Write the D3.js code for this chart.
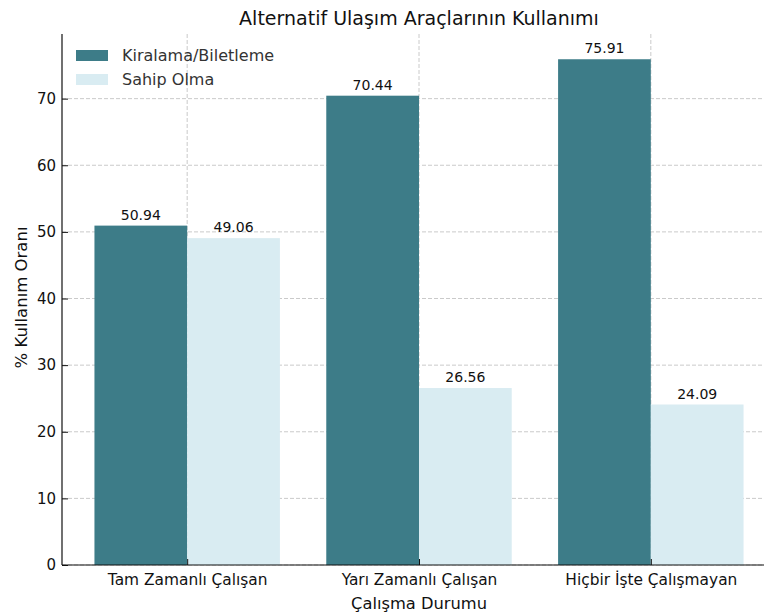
<!DOCTYPE html>
<html>
<head>
<meta charset="utf-8">
<script src="https://cdn.jsdelivr.net/npm/d3@7"></script>
<style>
  body { margin: 0; background: #fff; }
  svg { display: block; font-family: "DejaVu Sans", sans-serif; }
</style>
</head>
<body>
<div id="chart"></div>
<script>
const categories = ["Tam Zamanlı Çalışan", "Yarı Zamanlı Çalışan", "Hiçbir İşte Çalışmayan"];
const seriesNames = ["Kiralama/Biletleme", "Sahip Olma"];
const kiralama = [50.94, 70.44, 75.91];
const sahip = [49.06, 26.56, 24.09];
const yTicks = [0, 10, 20, 30, 40, 50, 60, 70];
const colors = ["#3d7c88", "#d9ecf2"];

const width = 764, height = 613;
// the plot area runs past the right edge of the picture, like the original
const margin = { top: 34, left: 62, right: -12, bottom: 48 };
const innerW = width - margin.left - margin.right;
const innerH = height - margin.top - margin.bottom;

const svg = d3.select("#chart").append("svg")
  .attr("width", width).attr("height", height);

const g = svg.append("g").attr("transform", `translate(${margin.left},${margin.top})`);

// linear x like matplotlib: centers 0..2, bars width 0.4, xlim -0.54..2.54
const x = d3.scaleLinear().domain([-0.54, 2.54]).range([0, innerW]);
const y = d3.scaleLinear().domain([0, 79.7]).range([innerH, 0]);
const barW = 0.4;

// grid
g.append("g").selectAll("line.h").data(yTicks).join("line")
  .attr("x1", 0).attr("x2", innerW)
  .attr("y1", d => y(d)).attr("y2", d => y(d))
  .attr("stroke", "#c4c4c4").attr("stroke-dasharray", "4,2").attr("stroke-width", 0.9);
g.append("g").selectAll("line.v").data(categories).join("line")
  .attr("x1", (d, i) => x(i)).attr("x2", (d, i) => x(i))
  .attr("y1", 0).attr("y2", innerH)
  .attr("stroke", "#c4c4c4").attr("stroke-dasharray", "4,2").attr("stroke-width", 0.9);

const series = [kiralama, sahip];
series.forEach((vals, s) => {
  const off = s === 0 ? -barW / 2 : barW / 2;
  g.append("g").selectAll("rect").data(vals).join("rect")
    .attr("x", (d, i) => x(i + off - barW / 2))
    .attr("width", x(barW) - x(0))
    .attr("y", d => y(d))
    .attr("height", d => innerH - y(d))
    .attr("fill", colors[s]);
  g.append("g").selectAll("text").data(vals).join("text")
    .attr("x", (d, i) => x(i + off))
    .attr("y", d => y(d) - 6)
    .attr("text-anchor", "middle")
    .attr("font-size", 14)
    .attr("fill", "#111")
    .text(d => d.toFixed(2));
});

// axes, ticks point inward like the original
const yAxis = g.append("g").call(d3.axisLeft(y).tickValues(yTicks).tickSizeInner(-6).tickSizeOuter(0).tickPadding(6));
yAxis.selectAll("text").attr("font-size", 15).attr("fill", "#111").attr("font-family", "DejaVu Sans");
yAxis.selectAll(".tick line").attr("stroke", "#111");
yAxis.select(".domain").attr("d", `M0,${innerH}V0`).attr("stroke", "#111").attr("stroke-width", 1.2);

const xAxis = g.append("g").attr("transform", `translate(0,${innerH})`)
  .call(d3.axisBottom(x).tickValues([0, 1, 2]).tickFormat(i => categories[i]).tickSizeInner(-6).tickSizeOuter(0).tickPadding(9));
xAxis.selectAll("text").attr("font-size", 15.4).attr("fill", "#111").attr("font-family", "DejaVu Sans");
xAxis.selectAll(".tick line").attr("stroke", "#111");
xAxis.select(".domain").attr("d", `M0,0H${innerW}`).attr("stroke", "#111").attr("stroke-width", 1.2);

// titles
svg.append("text").attr("x", margin.left + innerW / 2).attr("y", 25)
  .attr("text-anchor", "middle").attr("font-size", 19).attr("fill", "#111")
  .text("Alternatif Ulaşım Araçlarının Kullanımı");
svg.append("text").attr("x", margin.left + innerW / 2).attr("y", 609)
  .attr("text-anchor", "middle").attr("font-size", 16.3).attr("fill", "#111")
  .text("Çalışma Durumu");
svg.append("text").attr("transform", `translate(27,${margin.top + innerH / 2 - 2}) rotate(-90)`)
  .attr("text-anchor", "middle").attr("font-size", 16.5).attr("fill", "#111")
  .text("% Kullanım Oranı");

// legend
const legend = svg.append("g").attr("transform", "translate(76,50)");
seriesNames.forEach((name, i) => {
  const row = legend.append("g").attr("transform", `translate(0,${i * 24})`);
  row.append("rect").attr("width", 32).attr("height", 11).attr("fill", colors[i]);
  row.append("text").attr("x", 46).attr("y", 11).attr("font-size", 16).attr("fill", "#333").text(name);
});
</script>
</body>
</html>
